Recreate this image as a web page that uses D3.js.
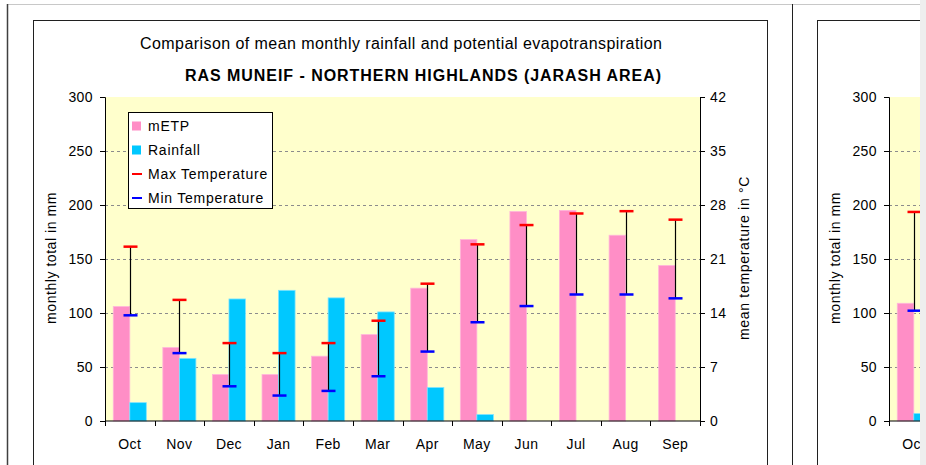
<!DOCTYPE html>
<html>
<head>
<meta charset="utf-8">
<script src="https://cdn.jsdelivr.net/npm/d3@7"></script>
<style>
  body { margin: 0; background: #fff; }
  text { font-family: "Liberation Sans", Arial, sans-serif; fill: #000; }
</style>
</head>
<body>
<svg id="chart" width="926" height="465"></svg>
<script>
// data
const months = ["Oct", "Nov", "Dec", "Jan", "Feb", "Mar", "Apr", "May", "Jun", "Jul", "Aug", "Sep"];
const etp = [106, 68, 43, 43, 60, 80, 123, 168, 194, 195, 172, 144];
const rainfall = [17, 58, 113, 121, 114, 101, 31, 6, 0, 0, 0, 0];
const maxTemp = [22.6, 15.7, 10.1, 8.8, 10.1, 13.0, 17.8, 22.9, 25.4, 26.9, 27.2, 26.1];
const minTemp = [13.7, 8.8, 4.5, 3.3, 3.9, 5.8, 9.0, 12.8, 14.9, 16.4, 16.4, 15.9];

// second panel, only its first month is visible at the right edge
const months2 = ["Oct"];
const etp2 = [109];
const rainfall2 = [7];
const maxTemp2 = [27.1];
const minTemp2 = [14.3];

const leftTicks = [0, 50, 100, 150, 200, 250, 300];
const rightTicks = [0, 7, 14, 21, 28, 35, 42];

const colors = {etp: "#FF8EC6", rain: "#00C8FF", max: "#FF0000", min: "#0000FF", plot: "#FFFFCC"};
const plot = {left: 105, right: 700, top: 97, bottom: 421};

const svg = d3.select("#chart");

svg.append("defs").append("clipPath").attr("id", "edge")
  .append("rect").attr("x", 0).attr("y", 0).attr("width", 920).attr("height", 465);

// outer frames
svg.append("line").attr("x1", 7).attr("x2", 920).attr("y1", 4.5).attr("y2", 4.5)
  .attr("stroke", "#c8c8c8");
svg.append("line").attr("x1", 7.5).attr("x2", 7.5).attr("y1", 4).attr("y2", 465)
  .attr("stroke", "#404040").attr("stroke-width", 1.5);
svg.append("line").attr("x1", 792.5).attr("x2", 792.5).attr("y1", 4).attr("y2", 465)
  .attr("stroke", "#202020");

function drawPanel(dx, cats, etpV, rainV, maxV, minV, full) {
  const g = svg.append("g")
      .attr("clip-path", "url(#edge)")
    .append("g")
      .attr("transform", `translate(${dx},0)`);

  g.append("rect").attr("x", 33.5).attr("y", 20.5).attr("width", 734).attr("height", 460)
    .attr("fill", "none").attr("stroke", "#202020");

  const x = d3.scaleBand().domain(months).range([plot.left, plot.right]);
  const yL = d3.scaleLinear().domain([0, 300]).range([plot.bottom, plot.top]);
  const yR = d3.scaleLinear().domain([0, 42]).range([plot.bottom, plot.top]);
  const bw = x.bandwidth() / 3;

  g.append("rect").attr("x", plot.left).attr("y", plot.top)
    .attr("width", plot.right - plot.left).attr("height", plot.bottom - plot.top)
    .attr("fill", colors.plot);

  // dashed grid lines
  g.append("g").selectAll("line")
    .data(leftTicks.filter(d => d > 0 && d < 300))
    .join("line")
      .attr("x1", plot.left).attr("x2", plot.right)
      .attr("y1", d => Math.round(yL(d)) + 0.5).attr("y2", d => Math.round(yL(d)) + 0.5)
      .attr("stroke", "#8c8c8c").attr("stroke-dasharray", "3,3");

  const rows = cats.map((m, i) => ({m: m, etp: etpV[i], rain: rainV[i], max: maxV[i], min: minV[i]}));

  g.append("g").selectAll("rect")
    .data(rows)
    .join("rect")
      .attr("x", d => x(d.m) + bw / 2)
      .attr("y", d => yL(d.etp))
      .attr("width", bw)
      .attr("height", d => yL(0) - yL(d.etp))
      .attr("fill", colors.etp).attr("stroke", "#FFB6DA").attr("stroke-width", 0.8);

  g.append("g").selectAll("rect")
    .data(rows.filter(d => d.rain > 0))
    .join("rect")
      .attr("x", d => x(d.m) + bw * 1.5)
      .attr("y", d => yL(d.rain))
      .attr("width", bw)
      .attr("height", d => yL(0) - yL(d.rain))
      .attr("fill", colors.rain).attr("stroke", "#7FE3FF").attr("stroke-width", 0.8);

  // temperature range bars
  const err = g.append("g").selectAll("g").data(rows).join("g")
    .attr("transform", d => `translate(${Math.round(x(d.m) + x.bandwidth() / 2) + 0.5},0)`);
  err.append("line").attr("y1", d => yR(d.max)).attr("y2", d => yR(d.min))
    .attr("stroke", "#000").attr("stroke-width", 1.2);
  err.append("line").attr("x1", -7).attr("x2", 7)
    .attr("y1", d => yR(d.max)).attr("y2", d => yR(d.max))
    .attr("stroke", colors.max).attr("stroke-width", 2.5);
  err.append("line").attr("x1", -7).attr("x2", 7)
    .attr("y1", d => yR(d.min)).attr("y2", d => yR(d.min))
    .attr("stroke", colors.min).attr("stroke-width", 2.5);

  // axes
  const leftAxis = g.append("g")
      .attr("transform", `translate(${plot.left},0)`)
      .call(d3.axisLeft(yL).tickValues(leftTicks).tickSize(5).tickPadding(7));
  const bottomAxis = g.append("g")
      .attr("transform", `translate(0,${plot.bottom})`)
      .call(d3.axisBottom(x).tickValues(cats).tickSize(0).tickPadding(18));
  bottomAxis.selectAll(".tick line").remove();
  bottomAxis.append("g").selectAll("line")
    .data(d3.range(months.length + 1))
    .join("line")
      .attr("x1", i => Math.round(plot.left + i * x.step()) + 0.5)
      .attr("x2", i => Math.round(plot.left + i * x.step()) + 0.5)
      .attr("y1", 0).attr("y2", 5).attr("stroke", "#000");
  [leftAxis, bottomAxis].forEach(a => {
    a.selectAll("text").style("font-size", "14px").style("letter-spacing", "0.4px").attr("fill", "#000");
    a.selectAll("path, line").attr("stroke", "#000");
  });
  bottomAxis.select(".domain").attr("d", `M${plot.left},0H${plot.right}`);

  g.append("text")
    .attr("transform", `translate(56,258) rotate(-90)`)
    .attr("text-anchor", "middle")
    .style("font-size", "14px").style("letter-spacing", "0.55px")
    .text("monthly total in mm");

  if (!full) return;

  const rightAxis = g.append("g")
      .attr("transform", `translate(${plot.right},0)`)
      .call(d3.axisRight(yR).tickValues(rightTicks).tickSize(5).tickPadding(5));
  rightAxis.selectAll("text").style("font-size", "14px").style("letter-spacing", "0.4px").attr("fill", "#000");
  rightAxis.selectAll("path, line").attr("stroke", "#000");

  g.append("text")
    .attr("transform", `translate(749,258) rotate(-90)`)
    .attr("text-anchor", "middle")
    .style("font-size", "14px").style("letter-spacing", "0.7px")
    .text("mean temperature in °C");

  // titles
  g.append("text").attr("x", 662).attr("y", 49).attr("text-anchor", "end")
    .style("font-size", "16px")
    .attr("textLength", 522).attr("lengthAdjust", "spacing")
    .text("Comparison of mean monthly rainfall and potential evapotranspiration");
  g.append("text").attr("x", 661).attr("y", 81).attr("text-anchor", "end")
    .style("font-size", "16px").style("font-weight", "bold")
    .attr("textLength", 476).attr("lengthAdjust", "spacing")
    .text("RAS MUNEIF - NORTHERN HIGHLANDS (JARASH AREA)");

  // legend
  const legend = g.append("g").attr("transform", "translate(128.5,112.5)");
  legend.append("rect").attr("width", 144).attr("height", 96)
    .attr("fill", "#fff").attr("stroke", "#000");
  const items = [
    {name: "mETP", color: colors.etp, kind: "box"},
    {name: "Rainfall", color: colors.rain, kind: "box"},
    {name: "Max Temperature", color: colors.max, kind: "line"},
    {name: "Min Temperature", color: colors.min, kind: "line"}
  ];
  const li = legend.selectAll(".item").data(items).join("g")
    .attr("class", "item")
    .attr("transform", (d, i) => `translate(0,${13.5 + i * 24})`);
  li.filter(d => d.kind === "box").append("rect")
    .attr("x", 3.5).attr("y", -4.5).attr("width", 9).attr("height", 9)
    .attr("fill", d => d.color);
  li.filter(d => d.kind === "line").append("line")
    .attr("x1", 3.5).attr("x2", 13.5).attr("y1", 0).attr("y2", 0)
    .attr("stroke", d => d.color).attr("stroke-width", 2);
  li.append("text").attr("x", 19.5).attr("y", 5)
    .style("font-size", "14px").style("letter-spacing", "0.75px").text(d => d.name);
}

drawPanel(0, months, etp, rainfall, maxTemp, minTemp, true);
drawPanel(784, months2, etp2, rainfall2, maxTemp2, minTemp2, false);

// grey strip at the right edge
svg.append("rect").attr("x", 920).attr("y", 0).attr("width", 6).attr("height", 465)
  .attr("fill", "#eeeeee");
</script>
</body>
</html>
